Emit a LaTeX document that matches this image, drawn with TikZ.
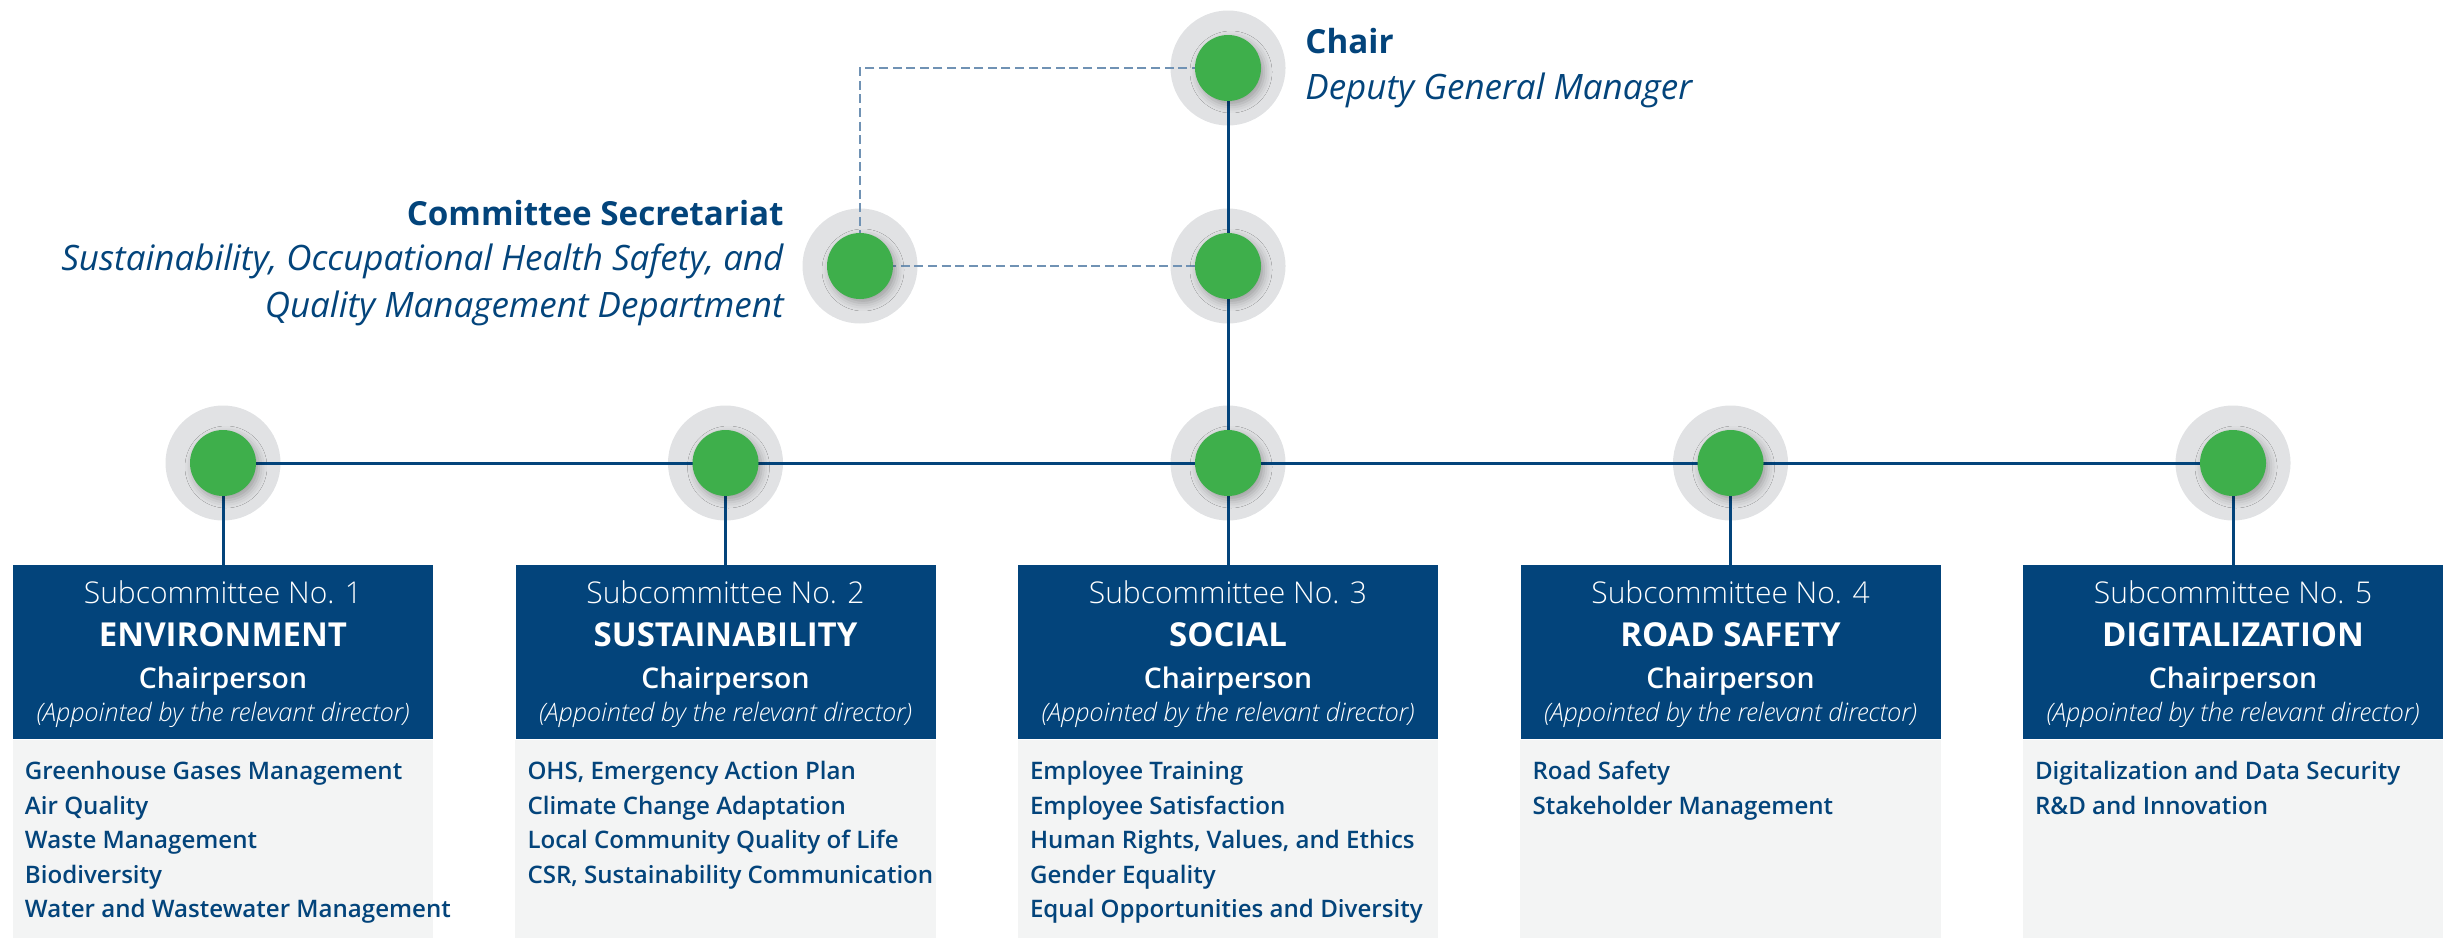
\documentclass[tikz,border=0pt]{standalone}
\usepackage{fontspec}
\setmainfont{Open Sans}
\newfontfamily\sbfont{Open Sans Semibold}
\newfontfamily\lightfont{Open Sans Light}[ItalicFont={Open Sans Light Italic}]
\usepackage{tikz}
\usetikzlibrary{positioning, calc, shadows.blur}

\definecolor{navy}{HTML}{03447B}
\definecolor{leaf}{HTML}{3EAF4B}
\definecolor{halo}{HTML}{E1E2E4}
\definecolor{paper}{HTML}{F3F4F4}
\definecolor{dashblue}{HTML}{7092B4}

\tikzset{
  link/.style={navy, line width=1.5pt},
  dashlink/.style={dashblue, line width=1pt, dash pattern=on 4.5pt off 2.3pt},
  dot/.style={circle, fill=leaf, minimum size=33pt, inner sep=0pt,
    blur shadow={shadow xshift=1.5pt, shadow yshift=-2pt, shadow blur radius=4pt, shadow opacity=30}},
  head/.style={fill=navy, minimum width=210pt, minimum height=87pt, anchor=north, inner sep=0pt},
  subno/.style={anchor=base, white, inner sep=0pt, font=\lightfont\fontsize{15}{18}\selectfont},
  subname/.style={anchor=base, white, inner sep=0pt, font=\bfseries\fontsize{16.5}{20}\selectfont},
  chairp/.style={anchor=base, white, inner sep=0pt, font=\sbfont\fontsize{14.2}{17}\selectfont},
  appt/.style={anchor=base, white, inner sep=0pt, font=\lightfont\itshape\fontsize{12.7}{15}\selectfont},
  item/.style={anchor=base west, navy, inner sep=0pt, font=\sbfont\fontsize{12.05}{14}\selectfont},
  title/.style={navy, inner sep=0pt, font=\bfseries\fontsize{16.6}{20}\selectfont},
  role/.style={navy, inner sep=0pt, font=\itshape\fontsize{17.5}{21}\selectfont}
}

\begin{document}
\begin{tikzpicture}[x=0.5pt, y=0.5pt]
  \useasboundingbox (0,0) rectangle (2444,-937);

  % Chair, the hub under it and the secretariat on the left
  \coordinate (chair) at (1228,-68);
  \coordinate (hub) at (1228,-266);
  \coordinate (sec) at (860,-266);

  % Subcommittee points along the bus
  \foreach \i in {1,...,5}
    \coordinate (sub\i) at ({223+502.5*(\i-1)},-463);

  % Grey rings behind the dots
  \foreach \p in {chair,hub,sec,sub1,sub2,sub3,sub4,sub5}
    \fill[halo] (\p) circle (28.75pt);

  % Subcommittee boxes
  \foreach \name [count=\i] in {ENVIRONMENT,SUSTAINABILITY,SOCIAL,ROAD SAFETY,DIGITALIZATION} {
    \node[head] (head\i) at ($(sub\i)+(0,-102)$) {};
    \fill[paper] (head\i.south west) rectangle ($(head\i.south east)+(0,-200)$);
    \node[subno] at ($(head\i.north)+(0,-38)$) {Subcommittee No. \i};
    \node[subname] at ($(head\i.north)+(0,-81)$) {\name};
    \node[chairp] at ($(head\i.north)+(0,-123)$) {Chairperson};
    \node[appt] at ($(head\i.north)+(0,-156)$) {(Appointed by the relevant director)};
  }

  % Topics of each subcommittee
  \foreach \t [count=\k] in {Greenhouse Gases Management, Air Quality, Waste Management, Biodiversity, Water and Wastewater Management}
    \node[item] at ($(head1.south west)+(12,{-40-34.4*(\k-1)})$) {\t};
  \foreach \t [count=\k] in {{OHS, Emergency Action Plan}, Climate Change Adaptation, Local Community Quality of Life, {CSR, Sustainability Communication}}
    \node[item] at ($(head2.south west)+(12,{-40-34.4*(\k-1)})$) {\t};
  \foreach \t [count=\k] in {Employee Training, Employee Satisfaction, {Human Rights, Values, and Ethics}, Gender Equality, Equal Opportunities and Diversity}
    \node[item] at ($(head3.south west)+(12,{-40-34.4*(\k-1)})$) {\t};
  \foreach \t [count=\k] in {Road Safety, Stakeholder Management}
    \node[item] at ($(head4.south west)+(12,{-40-34.4*(\k-1)})$) {\t};
  \foreach \t [count=\k] in {Digitalization and Data Security, R\&D and Innovation}
    \node[item] at ($(head5.south west)+(12,{-40-34.4*(\k-1)})$) {\t};

  % Solid tree lines
  \draw[link] (chair) -- (hub) -- (sub3);
  \draw[link] (sub1) -- (sub5);
  \foreach \i in {1,...,5}
    \draw[link] (sub\i) -- (head\i.north);

  % Dashed link to the secretariat
  \draw[dashlink] (chair) -| (sec);
  \draw[dashlink] (sec) -- (hub);

  % Green dots
  \foreach \p in {chair,hub,sec,sub1,sub2,sub3,sub4,sub5}
    \node[dot] (\p-dot) at (\p) {};

  % Labels
  \node[title, anchor=base west] (chairtitle) at (1305,-53) {Chair};
  \node[role, anchor=base west] (chairrole) at (1305,-99) {Deputy General Manager};
  \node[title, anchor=base east] (sectitle) at (784,-225) {Committee Secretariat};
  \node[role, anchor=base east] (secrole) at (784,-270) {Sustainability, Occupational Health Safety, and};
  \node[role, anchor=base east] (secdept) at (784,-317) {Quality Management Department};
\end{tikzpicture}
\end{document}
